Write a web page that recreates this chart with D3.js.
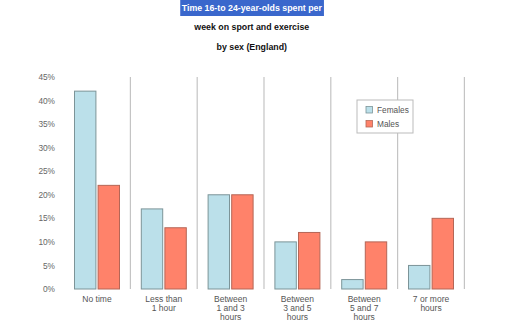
<!DOCTYPE html>
<html><head><meta charset="utf-8">
<script src="https://cdn.jsdelivr.net/npm/d3@7"></script>
<style>body{margin:0;background:#fff;}svg{display:block;}</style>
</head><body>
<svg id="c" width="512" height="324"></svg>
<script>
const categories = ["No time", "Less than\n1 hour", "Between\n1 and 3\nhours", "Between\n3 and 5\nhours", "Between\n5 and 7\nhours", "7 or more\nhours"];
const females = [42, 17, 20, 10, 2, 5];
const males = [22, 13, 20, 12, 10, 15];
const seriesNames = ["Females", "Males"];
const yTicks = [0, 5, 10, 15, 20, 25, 30, 35, 40, 45];
const titleLines = ["Time 16-to 24-year-olds spent per", "week on sport and exercise", "by sex (England)"];

const svg = d3.select("#c");
const font = "'Liberation Sans', Arial, sans-serif";
const colors = ["#bbe0ea", "#ff826a"];
const strokes = ["#7c9498", "#b56656"];

const x = d3.scaleBand().domain(categories).range([63.6, 464.4]).paddingInner(0).paddingOuter(0);
const y = d3.scaleLinear().domain([0, 45]).range([289, 77]);
const xs = d3.scaleBand().domain(seriesNames).range([10.4, x.bandwidth() - 10.4]).paddingInner(0.05);

// title
const cx = 251.8;
const tg = svg.append("g");
const t0 = tg.append("text").attr("x", cx).attr("y", 11.3).attr("text-anchor", "middle")
  .attr("font-family", font).attr("font-weight", "bold").attr("font-size", 8.8).attr("fill", "#fff").text(titleLines[0]);
const bb = t0.node().getBBox();
tg.insert("rect", "text").attr("x", bb.x - 1.5).attr("y", 0).attr("width", bb.width + 3).attr("height", 16).attr("fill", "#3a67cc");
titleLines.slice(1).forEach((t, i) => {
  tg.append("text").attr("x", cx).attr("y", 30 + i * 20).attr("text-anchor", "middle")
    .attr("font-family", font).attr("font-weight", "bold").attr("font-size", 8.8).attr("fill", "#111").text(t);
});

// y axis labels
const yAxis = svg.append("g").attr("transform", "translate(55,0)")
  .call(d3.axisLeft(y).tickValues(yTicks).tickSize(0).tickPadding(0).tickFormat(d => d + "%"));
yAxis.select(".domain").remove();
yAxis.selectAll("text").attr("font-family", font).attr("font-size", 8.3).attr("fill", "#666");

// dividers
svg.append("g").selectAll("line").data(categories).join("line")
  .attr("x1", d => x(d) + x.bandwidth()).attr("x2", d => x(d) + x.bandwidth())
  .attr("y1", y(45)).attr("y2", y(0))
  .attr("stroke", "#c4c4c4").attr("stroke-width", 1.2);

// bars
const data = categories.map((c, i) => ({c, vals: [females[i], males[i]]}));
const g = svg.append("g").selectAll("g").data(data).join("g").attr("transform", d => `translate(${x(d.c)},0)`);
g.selectAll("rect").data(d => d.vals.map((v, k) => ({v, k}))).join("rect")
  .attr("x", d => xs(seriesNames[d.k]) + 0.5).attr("width", xs.bandwidth() - 1)
  .attr("y", d => y(d.v)).attr("height", d => y(0) - y(d.v))
  .attr("fill", d => colors[d.k]).attr("stroke", d => strokes[d.k]).attr("stroke-width", 1);

// x labels
const xAxis = svg.append("g").attr("transform", "translate(0,289)")
  .call(d3.axisBottom(x).tickSize(0).tickPadding(0).tickFormat(""));
xAxis.select(".domain").remove();
xAxis.selectAll(".tick").each(function(d) {
  const t = d3.select(this).append("text").attr("text-anchor", "middle")
    .attr("font-family", font).attr("font-size", 8.5).attr("fill", "#555");
  d.split("\n").forEach((line, i) => {
    t.append("tspan").attr("x", 0).attr("y", 13.3 + i * 9).text(line);
  });
});

// legend
const lg = svg.append("g").attr("transform", "translate(357,100)");
lg.append("rect").attr("width", 56).attr("height", 33).attr("fill", "#fff").attr("stroke", "#bbb").attr("stroke-width", 1);
seriesNames.forEach((s, i) => {
  lg.append("rect").attr("x", 9).attr("y", 6.5 + i * 14).attr("width", 6.5).attr("height", 6.5)
    .attr("fill", colors[i]).attr("stroke", strokes[i]).attr("stroke-width", 0.8);
  lg.append("text").attr("x", 20).attr("y", 13 + i * 14).attr("font-family", font).attr("font-size", 8.3)
    .attr("fill", "#555").text(s);
});
</script>
</body></html>
